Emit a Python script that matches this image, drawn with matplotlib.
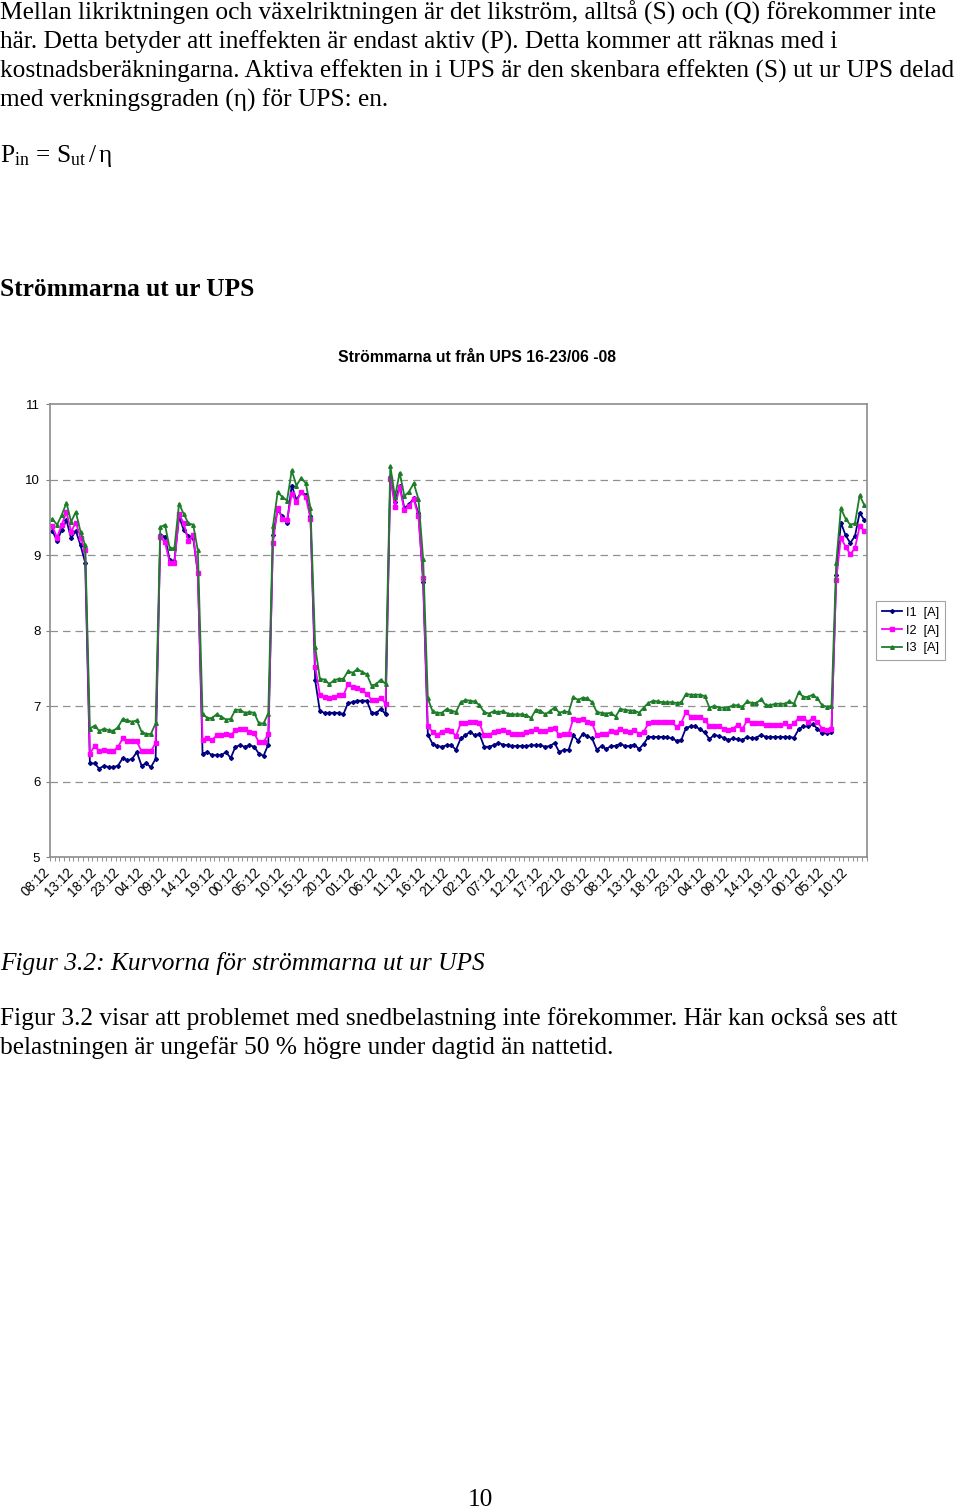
import numpy as np
import matplotlib.pyplot as plt

plt.rcParams['mathtext.fontset'] = 'custom'
plt.rcParams['mathtext.rm'] = 'Liberation Serif'
plt.rcParams['mathtext.it'] = 'Liberation Serif:italic'

### data (hourly samples, 16-23/06 -08)
tick_labels = ['08:12', '13:12', '18:12', '23:12', '04:12', '09:12', '14:12', '19:12',
               '00:12', '05:12', '10:12', '15:12', '20:12', '01:12', '06:12', '11:12',
               '16:12', '21:12', '02:12', '07:12', '12:12', '17:12', '22:12', '03:12',
               '08:12', '13:12', '18:12', '23:12', '04:12', '09:12', '14:12', '19:12',
               '00:12', '05:12', '10:12']

i1 = [9.32, 9.19, 9.33, 9.46, 9.22, 9.32, 9.13, 8.90,
      6.24, 6.24, 6.17, 6.21, 6.19, 6.19, 6.21, 6.31, 6.28, 6.30, 6.39, 6.21, 6.24, 6.19, 6.30,
      9.27, 9.24, 8.93, 8.92, 9.51, 9.33, 9.25, 9.23, 8.76,
      6.37, 6.39, 6.35, 6.35, 6.35, 6.39, 6.31, 6.46, 6.48, 6.46, 6.48, 6.46, 6.37, 6.34, 6.49,
      9.26, 9.60, 9.51, 9.42, 9.92, 9.73, 9.83, 9.80, 9.51,
      7.34,
      6.93, 6.91, 6.91, 6.91, 6.91, 6.89, 7.04, 7.05, 7.07, 7.07, 7.07, 6.91, 6.91, 6.96, 6.89,
      10.03, 9.70, 9.92, 9.62, 9.67, 9.75, 9.55,
      8.64, 6.62,
      6.50, 6.47, 6.46, 6.48, 6.48, 6.42, 6.57, 6.61, 6.66, 6.61, 6.63, 6.46, 6.46, 6.48,
      6.51, 6.49, 6.48, 6.47, 6.47, 6.47, 6.47, 6.48, 6.48, 6.48, 6.46, 6.47, 6.51, 6.39,
      6.42, 6.42, 6.61, 6.54, 6.63, 6.60, 6.57, 6.42, 6.47, 6.43, 6.47, 6.47, 6.50, 6.47,
      6.47, 6.49, 6.43, 6.50, 6.59, 6.59, 6.59, 6.59, 6.59, 6.57, 6.54,
      6.55, 6.71,
      6.73, 6.73, 6.69, 6.65, 6.56, 6.62, 6.60, 6.58, 6.55, 6.57, 6.56, 6.55, 6.59, 6.57,
      6.58, 6.62, 6.59, 6.59, 6.59, 6.59, 6.59, 6.59, 6.58, 6.69, 6.73, 6.73, 6.76, 6.70,
      6.64, 6.64, 6.66,
      8.73, 9.43, 9.26, 9.16, 9.25, 9.56, 9.46]

i2 = [9.38, 9.23, 9.40, 9.57, 9.31, 9.43, 9.23, 9.06,
      6.37, 6.47, 6.40, 6.42, 6.40, 6.40, 6.46, 6.57, 6.53, 6.53, 6.53, 6.40, 6.40, 6.40, 6.51,
      9.24, 9.17, 8.90, 8.89, 9.54, 9.42, 9.18, 9.27, 8.76,
      6.55, 6.57, 6.55, 6.61, 6.61, 6.63, 6.61, 6.68, 6.70, 6.69, 6.65, 6.64, 6.52, 6.52, 6.63,
      9.16, 9.62, 9.48, 9.46, 9.81, 9.70, 9.83, 9.77, 9.48,
      7.52,
      7.15, 7.12, 7.10, 7.12, 7.14, 7.14, 7.29, 7.25, 7.24, 7.21, 7.16, 7.08, 7.08, 7.11, 7.03,
      10.01, 9.64, 9.90, 9.59, 9.65, 9.74, 9.51,
      8.69, 6.73,
      6.66, 6.62, 6.66, 6.68, 6.67, 6.60, 6.77, 6.77, 6.79, 6.79, 6.77, 6.61, 6.61, 6.66,
      6.67, 6.68, 6.66, 6.63, 6.63, 6.63, 6.66, 6.67, 6.69, 6.67, 6.67, 6.69, 6.71, 6.61,
      6.63, 6.63, 6.83, 6.81, 6.83, 6.79, 6.77, 6.61, 6.63, 6.63, 6.67, 6.66, 6.70, 6.67,
      6.66, 6.68, 6.63, 6.66, 6.77, 6.79, 6.79, 6.79, 6.79, 6.79, 6.72,
      6.78, 6.92,
      6.86, 6.86, 6.86, 6.82, 6.73, 6.73, 6.73, 6.70, 6.68, 6.70, 6.75, 6.69, 6.81, 6.77,
      6.77, 6.77, 6.75, 6.75, 6.75, 6.75, 6.77, 6.73, 6.77, 6.84, 6.84, 6.79, 6.84, 6.79,
      6.70, 6.68, 6.70,
      8.67, 9.23, 9.11, 9.01, 9.09, 9.38, 9.32]

i3 = [9.48, 9.40, 9.53, 9.69, 9.44, 9.57, 9.31, 9.13,
      6.70, 6.74, 6.67, 6.70, 6.68, 6.67, 6.72, 6.83, 6.81, 6.79, 6.81, 6.66, 6.63, 6.63, 6.77,
      9.37, 9.40, 9.09, 9.09, 9.68, 9.54, 9.42, 9.40, 9.06,
      6.90, 6.84, 6.84, 6.89, 6.86, 6.82, 6.83, 6.95, 6.95, 6.91, 6.92, 6.91, 6.77, 6.77, 6.90,
      9.38, 9.83, 9.77, 9.72, 10.12, 9.92, 10.02, 9.95, 9.62,
      7.78,
      7.36, 7.35, 7.29, 7.34, 7.36, 7.36, 7.46, 7.44, 7.49, 7.45, 7.42, 7.27, 7.29, 7.35, 7.29,
      10.18, 9.77, 10.09, 9.78, 9.84, 9.95, 9.74,
      8.95, 7.10,
      6.93, 6.91, 6.91, 6.96, 6.94, 6.92, 7.05, 7.08, 7.07, 7.06, 7.01, 6.92, 6.90, 6.93,
      6.92, 6.93, 6.90, 6.89, 6.89, 6.89, 6.88, 6.84, 6.95, 6.94, 6.89, 6.93, 6.98, 6.91,
      6.93, 6.92, 7.12, 7.08, 7.11, 7.10, 7.05, 6.92, 6.91, 6.90, 6.91, 6.86, 6.96, 6.95,
      6.94, 6.94, 6.91, 6.98, 7.04, 7.07, 7.06, 7.05, 7.05, 7.05, 7.04,
      7.05, 7.16,
      7.15, 7.15, 7.15, 7.13, 6.98, 7.00, 6.98, 6.98, 6.98, 7.01, 7.01, 6.99, 7.06, 7.04,
      7.04, 7.09, 7.01, 7.01, 7.03, 7.03, 7.03, 7.06, 7.03, 7.18, 7.12, 7.12, 7.15, 7.10,
      7.01, 6.99, 7.00,
      8.89, 9.62, 9.48, 9.40, 9.42, 9.79, 9.66]

series_names = ['I1  [A]', 'I2  [A]', 'I3  [A]']
series_colors = ['#000080', '#ff00ff', '#1e7d28']
series_markers = ['D', 's', '^']

W, H = 960, 1509
fig = plt.figure(figsize=(W / 100, H / 100), dpi=100)

serif = 'Liberation Serif'
sans = 'Liberation Sans'
body = 18.3

def ftext(x, y, s, **kw):
    # place text by pixel coordinates (y from top, baseline)
    fig.text(x / W, 1 - y / H, s, va='baseline', **kw)

# page text above the chart
ftext(0, 20, 'Mellan likriktningen och växelriktningen är det likström, alltså (S) och (Q) förekommer inte',
      family=serif, size=body)
ftext(0, 49, 'här. Detta betyder att ineffekten är endast aktiv (P). Detta kommer att räknas med i',
      family=serif, size=body)
ftext(0, 78, 'kostnadsberäkningarna. Aktiva effekten in i UPS är den skenbara effekten (S) ut ur UPS delad',
      family=serif, size=body)
ftext(0, 107, 'med verkningsgraden (η) för UPS: en.', family=serif, size=body)
ftext(0, 162, r'$\mathrm{P}_{\mathrm{in}}\mathrm{\,=\,S}_{\mathrm{ut}}\mathrm{\,/\,η}$',
      family=serif, size=body)
ftext(0, 296, 'Strömmarna ut ur UPS', family=serif, size=body, weight='bold')

# chart
x0, x1, y0, y1 = 50, 866.7, 404, 857
ax = fig.add_axes([x0 / W, 1 - y1 / H, (x1 - x0) / W, (y1 - y0) / H])
n = len(i1)
x = np.arange(n)
for vals, name, col, mk in zip([i1, i2, i3], series_names, series_colors, series_markers):
    ax.plot(x, vals, color=col, lw=1.3, marker=mk, ms=2.6 if mk != 'D' else 2.0,
            mec=col, mfc=col, label=name)

ax.set_xlim(-0.5, n - 0.5)
ax.set_ylim(5, 11)
ax.set_yticks(range(5, 12))
ax.set_yticklabels([str(v) for v in range(5, 12)], family=sans, size=9.5)
for v in range(6, 11):
    ax.axhline(v, color='#909090', lw=0.9, dashes=(6, 4), zorder=0)

ax.set_xticks(np.arange(0, 5 * len(tick_labels), 5))
ax.set_xticklabels(tick_labels, rotation=45, ha='right', va='top', rotation_mode='default',
                   family=sans, size=9.8)
ax.set_xticks(np.arange(-0.5, n, 1), minor=True)
ax.tick_params(axis='x', which='major', length=0, pad=6)
ax.tick_params(axis='x', which='minor', length=3, color='#808080', width=0.6)
ax.tick_params(axis='y', length=3, color='#808080', width=0.8, pad=4)
for sp in ax.spines.values():
    sp.set_color('#8c8c8c')
    sp.set_linewidth(1.2)

leg = ax.legend(loc='center left', bbox_to_anchor=((876 - x0) / (x1 - x0), 0.5),
                borderaxespad=0, frameon=True, fancybox=False, prop={'family': sans, 'size': 9.2},
                handlelength=1.6, handletextpad=0.3, labelspacing=0.45, borderpad=0.45)
leg.get_frame().set_edgecolor('#8c8c8c')
leg.get_frame().set_linewidth(0.8)

ftext(477, 362, 'Strömmarna ut från UPS 16-23/06 -08', family=sans, size=11.3,
      weight='bold', ha='center')

# text below the chart
ftext(0, 970, 'Figur 3.2: Kurvorna för strömmarna ut ur UPS', family=serif, size=body,
      style='italic')
ftext(0, 1025, 'Figur 3.2 visar att problemet med snedbelastning inte förekommer. Här kan också ses att',
      family=serif, size=body)
ftext(0, 1054, 'belastningen är ungefär 50 % högre under dagtid än nattetid.', family=serif, size=body)
ftext(480, 1506, '10', family=serif, size=body, ha='center')

fig.savefig('out.png', dpi=100)
plt.close(fig)
